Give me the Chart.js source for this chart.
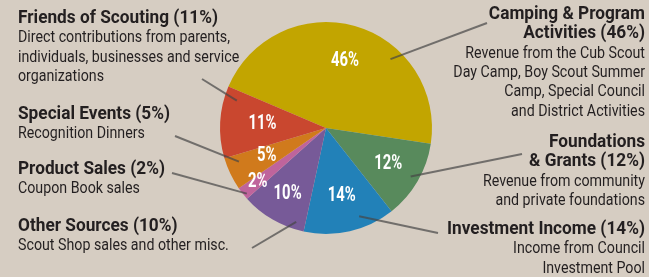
<!DOCTYPE html>
<html>
<head>
<meta charset="utf-8">
<script src="https://cdn.jsdelivr.net/npm/chart.js@4.4.1/dist/chart.umd.min.js"></script>
<style>
    html, body { margin: 0; padding: 0; background: #d6cdc2; }
    #wrap { position: relative; width: 649px; height: 277px; }
</style>
</head>
<body>
<div id="wrap"><canvas id="revenueChart" width="649" height="277"></canvas></div>
<script>
// Revenue sources (percent of total), clockwise from the left edge
const sources = ['Camping & Program Activities', 'Foundations & Grants', 'Investment Income',
    'Other Sources', 'Product Sales', 'Special Events', 'Friends of Scouting'];
const shares = [46, 12, 14, 10, 2, 5, 11];
const sliceColors = ['#c2a500', '#588a5c', '#2281b8', '#775a98', '#bf649c', '#d07a1c', '#c9472f'];

// Side annotations: heading lines + description lines
const notes = [
    { side: 'left', head: ['Friends of Scouting (11%)'],
      desc: ['Direct contributions from parents,', 'individuals, businesses and service', 'organizations'] },
    { side: 'left', head: ['Special Events (5%)'], desc: ['Recognition Dinners'] },
    { side: 'left', head: ['Product Sales (2%)'], desc: ['Coupon Book sales'] },
    { side: 'left', head: ['Other Sources (10%)'], desc: ['Scout Shop sales and other misc.'] },
    { side: 'right', head: ['Camping & Program', 'Activities (46%)'],
      desc: ['Revenue from the Cub Scout', 'Day Camp, Boy Scout Summer', 'Camp, Special Council', 'and District Activities'] },
    { side: 'right', head: ['Foundations', '& Grants (12%)'], desc: ['Revenue from community', 'and private foundations'] },
    { side: 'right', head: ['Investment Income (14%)'], desc: ['Income from Council', 'Investment Pool'] }
];

// layout: first baseline of each note block, and leader lines (slice, fraction along slice, radius factor, outer end)
const noteTops = [23, 119, 174, 231, 19, 147, 234];
const leaders = [
    { slice: 6, t: 0.85, r: 0.88, x: 202, y: 79 },
    { slice: 5, t: 0.75, r: 0.88, x: 175, y: 136 },
    { slice: 4, t: 0.3, r: 0.97, x: 172, y: 173 },
    { slice: 3, t: 0.15, r: 0.93, x: 252, y: 248 },
    { slice: 0, t: 0.665, r: 0.89, x: 487, y: 23 },
    { slice: 1, t: 0.49, r: 0.92, x: 522, y: 154 },
    { slice: 2, t: 0.35, r: 0.89, x: 438, y: 233 }
];
const labelRadius = [0.66, 0.68, 0.66, 0.72, 0.82, 0.62, 0.6];

// the original uses a condensed face; squeeze Roboto to the same widths
const FONT = 'Roboto, "Liberation Sans", sans-serif';
const HEAD_FONT = 'bold 19px ' + FONT;
const DESC_FONT = '16px ' + FONT;
const PCT_FONT = 'bold 20px ' + FONT;

function squeeze(ctx, font, sample, width) {
    ctx.font = font;
    return width / ctx.measureText(sample).width;
}

function drawText(ctx, text, x, y, sx) {
    ctx.save();
    ctx.translate(x, y);
    ctx.scale(sx, 1);
    ctx.fillText(text, 0, 0);
    ctx.restore();
}

const annotations = {
    id: 'annotations',
    afterDatasetsDraw(chart) {
        const ctx = chart.ctx;
        const arcs = chart.getDatasetMeta(0).data;
        ctx.save();

        const headSx = squeeze(ctx, HEAD_FONT, 'Friends of Scouting (11%)', 200);
        const descSx = squeeze(ctx, DESC_FONT, 'Direct contributions from parents,', 212);
        const pctSx = squeeze(ctx, PCT_FONT, '46%', 28);

        // leader lines
        ctx.strokeStyle = 'rgba(70, 70, 70, 0.7)';
        ctx.lineWidth = 2;
        leaders.forEach(l => {
            const a = arcs[l.slice];
            const ang = a.startAngle + (a.endAngle - a.startAngle) * l.t;
            const rr = a.outerRadius * l.r;
            ctx.beginPath();
            ctx.moveTo(l.x, l.y);
            ctx.lineTo(a.x + Math.cos(ang) * rr, a.y + Math.sin(ang) * rr);
            ctx.stroke();
        });

        // percentages inside the slices
        ctx.fillStyle = '#ffffff';
        ctx.font = PCT_FONT;
        ctx.textAlign = 'center';
        ctx.textBaseline = 'middle';
        arcs.forEach((a, i) => {
            const ang = (a.startAngle + a.endAngle) / 2;
            const rr = a.outerRadius * labelRadius[i];
            drawText(ctx, shares[i] + '%', a.x + Math.cos(ang) * rr, a.y + Math.sin(ang) * rr, pctSx);
        });

        // side notes
        ctx.fillStyle = '#231f20';
        ctx.textBaseline = 'alphabetic';
        notes.forEach((n, i) => {
            const x = n.side === 'left' ? 18 : 645;
            ctx.textAlign = n.side === 'left' ? 'left' : 'right';
            let y = noteTops[i];
            ctx.font = HEAD_FONT;
            n.head.forEach(line => { drawText(ctx, line, x, y, headSx); y += 19.3; });
            ctx.font = DESC_FONT;
            n.desc.forEach(line => { drawText(ctx, line, x, y, descSx); y += 19.3; });
        });
        ctx.restore();
    }
};

new Chart(document.getElementById('revenueChart').getContext('2d'), {
    type: 'pie',
    data: {
        labels: sources,
        datasets: [{
            data: shares,
            backgroundColor: sliceColors,
            borderWidth: 0
        }]
    },
    options: {
        responsive: false,
        animation: false,
        rotation: -67,
        layout: { padding: { left: 220, right: 217, top: 22, bottom: 43 } },
        plugins: {
            legend: { display: false },
            tooltip: { enabled: false }
        }
    },
    plugins: [annotations]
});
</script>
</body>
</html>
